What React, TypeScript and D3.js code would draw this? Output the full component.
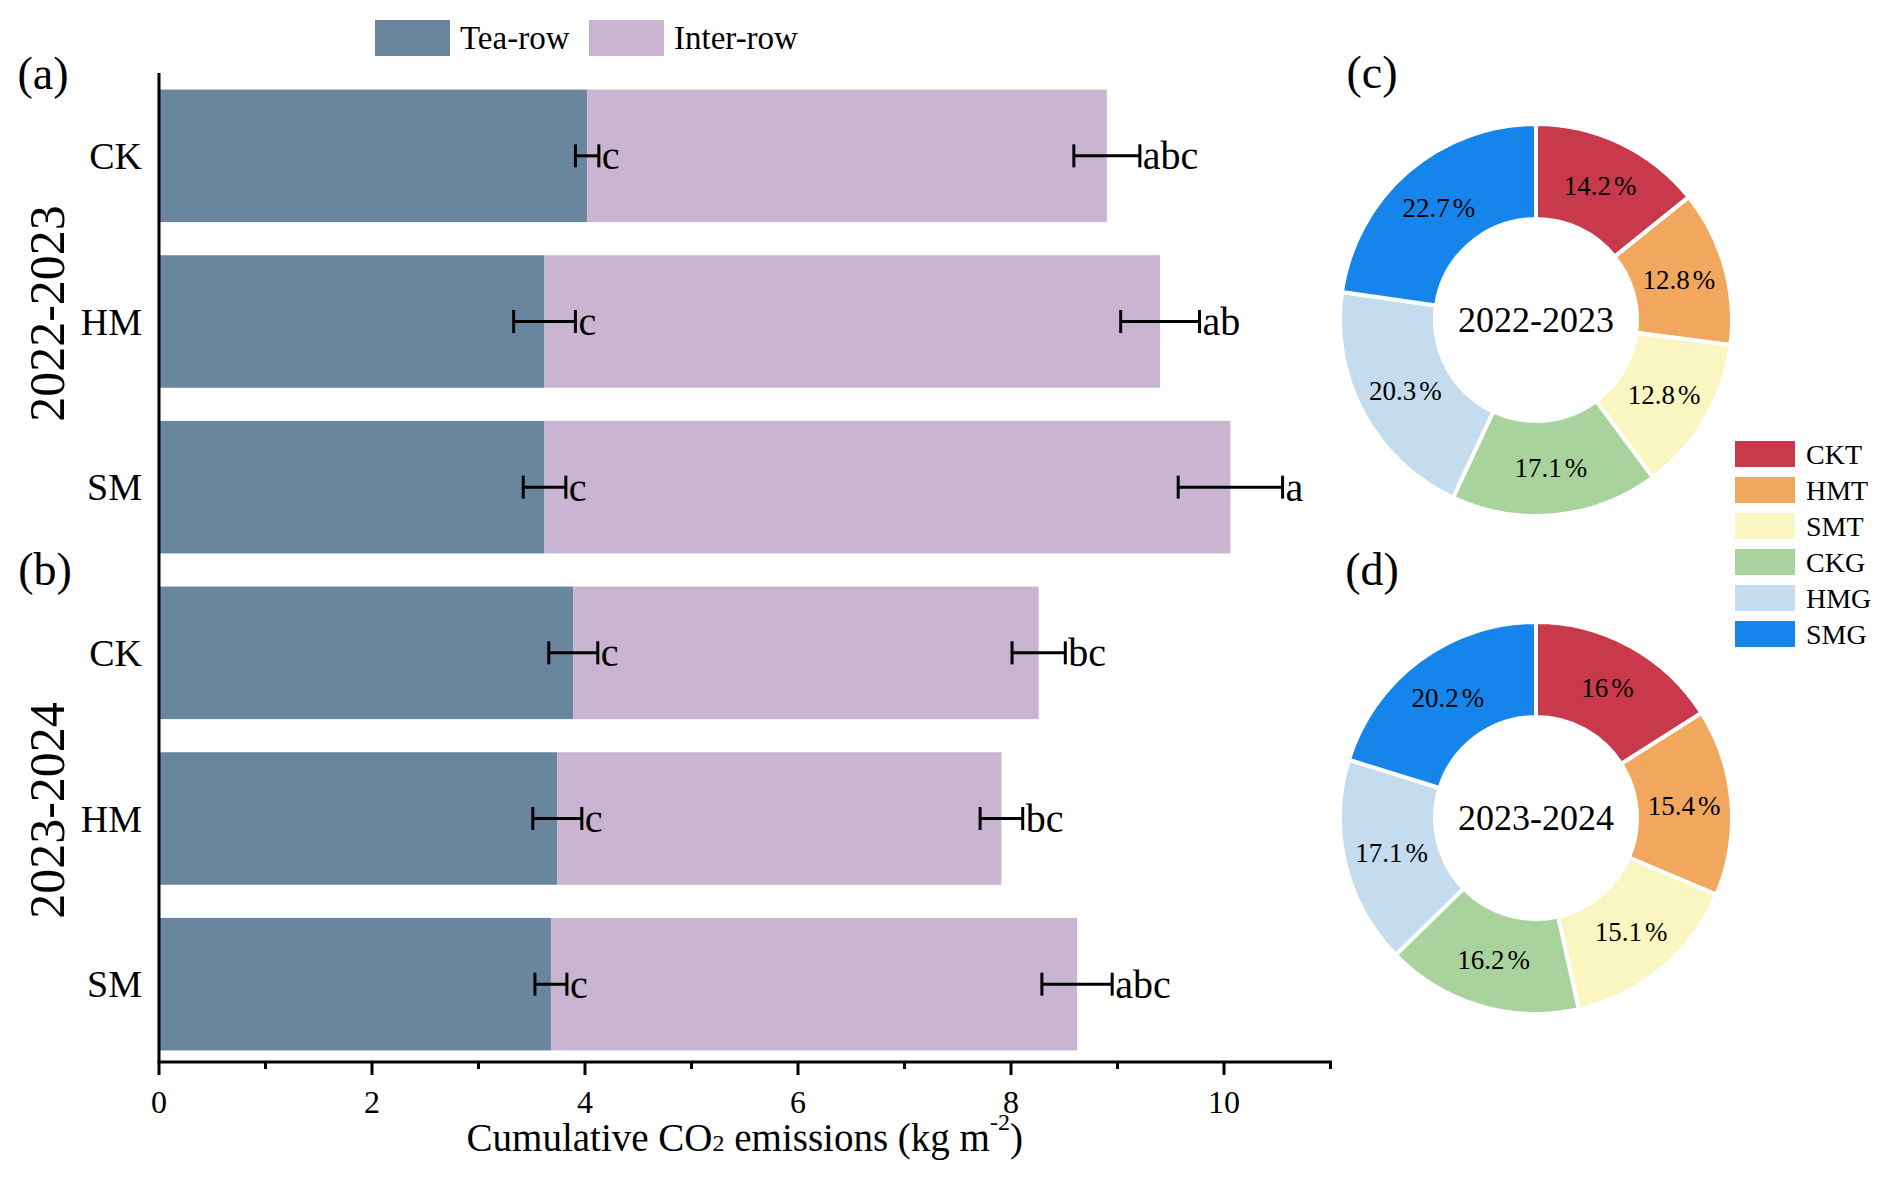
import React from 'react';
import { scaleLinear, scaleBand, pie, arc, range } from 'd3';

// bar chart data (a) 2022-2023 and (b) 2023-2024
const treatments = ['CK', 'HM', 'SM'];
const periods = ['2022-2023', '2023-2024'];
const teaRow = [4.02, 3.62, 3.62, 3.89, 3.74, 3.68];
const rowTotal = [8.9, 9.4, 10.06, 8.26, 7.91, 8.62];
const teaErr = [0.11, 0.29, 0.2, 0.23, 0.23, 0.15];
const totalErr = [0.31, 0.37, 0.49, 0.25, 0.2, 0.33];
const teaLetters = ['c', 'c', 'c', 'c', 'c', 'c'];
const totalLetters = ['abc', 'ab', 'a', 'bc', 'bc', 'abc'];
const xTicks = [0, 2, 4, 6, 8, 10];

// donut data (c) and (d)
const pieNames = ['CKT', 'HMT', 'SMT', 'CKG', 'HMG', 'SMG'];
const pieColors = ['#c83a4b', '#f2a75f', '#f9f6c2', '#a8d39c', '#c4dcee', '#1685eb'];
const share2223 = [14.2, 12.8, 12.8, 17.1, 20.3, 22.7];
const share2324 = [16, 15.4, 15.1, 16.2, 17.1, 20.2];

const teaColor = '#6a869e';
const interColor = '#c9b4d1';
const font = '"Liberation Serif", "Times New Roman", serif';

const Donut = (props: { cx: number, cy: number, values: number[], title: string }) => {
    const outer = 196;
    const inner = 101;
    const slices = pie<number>().sort(null).value(d => d)(props.values);
    const arcGen = arc<any>().innerRadius(inner).outerRadius(outer);
    const mid = (inner + outer) / 2;
    return (
        <g transform={`translate(${props.cx},${props.cy})`}>
            {slices.map((s, i) => (
                <path key={'s' + i} d={arcGen(s) as string} fill={pieColors[i]} stroke="#ffffff" strokeWidth={4} />
            ))}
            {slices.map((s, i) => {
                const a = (s.startAngle + s.endAngle) / 2;
                return (
                    <text key={'t' + i} x={Math.sin(a) * mid} y={-Math.cos(a) * mid} textAnchor="middle"
                        dominantBaseline="central" fontSize={27}>
                        {props.values[i]}<tspan dx={3}>%</tspan>
                    </text>
                );
            })}
            <text x={0} y={0} textAnchor="middle" dominantBaseline="central" fontSize={36}>{props.title}</text>
        </g>
    );
};

const App = () => {
    const left = 159, right = 1330.5, top = 73, bottom = 1062;
    const x = scaleLinear().domain([0, 11]).range([left, right]);
    const rows = range(teaRow.length);
    const y = scaleBand<number>().domain(rows).range([top, bottom + 5]).paddingInner(0.2).paddingOuter(0.1);
    const bw = y.bandwidth();
    const cap = 23;

    const errorBar = (val: number, err: number, cy: number, letter: string, key: string) => (
        <g key={key}>
            <line x1={x(val - err)} x2={x(val + err)} y1={cy} y2={cy} stroke="#000" strokeWidth={3} />
            <line x1={x(val - err)} x2={x(val - err)} y1={cy - cap / 2} y2={cy + cap / 2} stroke="#000" strokeWidth={3} />
            <line x1={x(val + err)} x2={x(val + err)} y1={cy - cap / 2} y2={cy + cap / 2} stroke="#000" strokeWidth={3} />
            <text x={x(val + err) + 3} y={cy} dominantBaseline="central" fontSize={40}>{letter}</text>
        </g>
    );

    const groupCenter = (g: number) => ((y(g * 3) as number) + (y(g * 3 + 2) as number) + bw) / 2 - 8;

    return (
        <svg width={1892} height={1177} style={{ position: 'absolute', left: 0, top: 0, background: '#fff' }}
            fontFamily={font}>
            {/* legend */}
            <rect x={375} y={20} width={75} height={36} fill={teaColor} />
            <text x={460} y={38} dominantBaseline="central" fontSize={33}>Tea-row</text>
            <rect x={589} y={20} width={75} height={36} fill={interColor} />
            <text x={674} y={38} dominantBaseline="central" fontSize={33}>Inter-row</text>

            {/* bars */}
            {rows.map(i => (
                <g key={'b' + i}>
                    <rect x={x(0)} y={y(i)} width={x(teaRow[i]) - x(0)} height={bw} fill={teaColor} />
                    <rect x={x(teaRow[i])} y={y(i)} width={x(rowTotal[i]) - x(teaRow[i])} height={bw} fill={interColor} />
                </g>
            ))}
            {rows.map(i => {
                const cy = (y(i) as number) + bw / 2;
                return (
                    <g key={'e' + i}>
                        {errorBar(teaRow[i], teaErr[i], cy, teaLetters[i], 'te' + i)}
                        {errorBar(rowTotal[i], totalErr[i], cy, totalLetters[i], 'to' + i)}
                        <text x={142} y={cy} textAnchor="end" dominantBaseline="central" fontSize={38}>
                            {treatments[i % 3]}
                        </text>
                    </g>
                );
            })}

            {/* axes */}
            <line x1={left} x2={left} y1={top} y2={bottom} stroke="#000" strokeWidth={3} />
            <line x1={left - 1.5} x2={right + 1.5} y1={bottom} y2={bottom} stroke="#000" strokeWidth={3} />
            {range(0, 12).map(t => (
                <line key={'tk' + t} x1={x(t)} x2={x(t)} y1={bottom} y2={bottom + (t % 2 === 0 ? 13 : 7)}
                    stroke="#000" strokeWidth={3} />
            ))}
            {xTicks.map(t => (
                <text key={'tl' + t} x={x(t)} y={1102} textAnchor="middle" dominantBaseline="central" fontSize={32}>{t}</text>
            ))}
            <text x={(left + right) / 2} y={1137} textAnchor="middle" dominantBaseline="central" fontSize={39}>
                Cumulative CO<tspan fontSize={24} dy={6}>2</tspan><tspan dy={-6}> emissions (kg m</tspan>
                <tspan fontSize={24} dy={-15}>-2</tspan><tspan dy={15}>)</tspan>
            </text>

            {/* period labels */}
            {periods.map((p, g) => (
                <text key={'p' + g} transform={`translate(47,${groupCenter(g)}) rotate(-90)`} textAnchor="middle"
                    dominantBaseline="central" fontSize={50}>{p}</text>
            ))}

            {/* panel labels */}
            <text x={43} y={73} textAnchor="middle" dominantBaseline="central" fontSize={46}>(a)</text>
            <text x={45} y={569} textAnchor="middle" dominantBaseline="central" fontSize={46}>(b)</text>
            <text x={1372} y={72} textAnchor="middle" dominantBaseline="central" fontSize={46}>(c)</text>
            <text x={1372} y={569} textAnchor="middle" dominantBaseline="central" fontSize={46}>(d)</text>

            {/* donuts */}
            <Donut cx={1536} cy={320} values={share2223} title={periods[0]} />
            <Donut cx={1536} cy={818} values={share2324} title={periods[1]} />

            {/* donut legend */}
            {pieNames.map((n, i) => (
                <g key={'l' + n} transform={`translate(1735,${441 + i * 36})`}>
                    <rect x={0} y={0} width={60} height={26} fill={pieColors[i]} />
                    <text x={71} y={13} dominantBaseline="central" fontSize={28}>{n}</text>
                </g>
            ))}
        </svg>
    );
};

export default App;
